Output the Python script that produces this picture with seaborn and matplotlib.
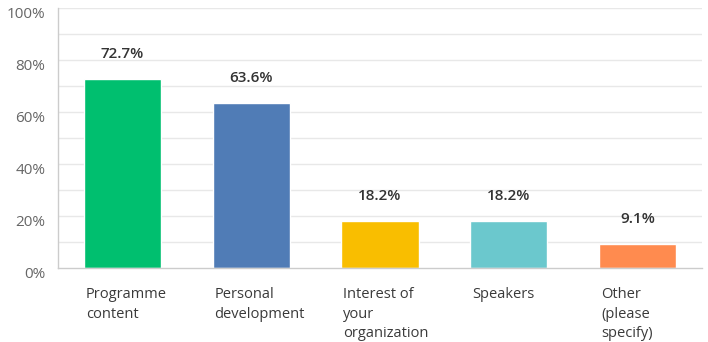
import matplotlib
matplotlib.use("Agg")
import matplotlib.pyplot as plt
import matplotlib.transforms as mtransforms
import seaborn as sns
import pandas as pd

categories = ["Programme\ncontent", "Personal\ndevelopment", "Interest of\nyour\norganization",
              "Speakers", "Other\n(please\nspecify)"]
values = [72.7, 63.6, 18.2, 18.2, 9.1]
value_labels = ["72.7%", "63.6%", "18.2%", "18.2%", "9.1%"]
colors = ["#00BF6F", "#507CB6", "#F9BE00", "#6BC8CD", "#FF8B4F"]
y_ticks = [0, 20, 40, 60, 80, 100]
y_tick_labels = ["0%", "20%", "40%", "60%", "80%", "100%"]

sns.set_style("white")
plt.rcParams['font.family'] = ['Open Sans', 'DejaVu Sans']

df = pd.DataFrame({"cat": categories, "val": values})

fig = plt.figure(figsize=(7.08, 3.42), dpi=100)
ax = fig.add_axes([58/708, (342-268)/342, (702-58)/708, 260/342])

sns.barplot(data=df, x="cat", y="val", hue="cat", palette=colors, width=0.6,
            legend=False, ax=ax, saturation=1)

ax.set_xlim(-0.5, 4.5)
ax.set_ylim(0, 100)
for g in range(10, 101, 10):
    ax.axhline(g, color="#e8e8e8", lw=1, zorder=0)
ax.set_yticks(y_ticks)
ax.set_yticklabels(y_tick_labels, color="#666666", fontsize=11)
ax.tick_params(axis="y", length=0, pad=9)
offset = mtransforms.ScaledTranslation(0, -4/100, fig.dpi_scale_trans)
for lbl in ax.get_yticklabels():
    lbl.set_transform(lbl.get_transform() + offset)

ax.set_xticks([])
ax.set_xlabel("")
ax.set_ylabel("")
trans = mtransforms.blended_transform_factory(ax.transData, ax.transAxes)
for i, c in enumerate(categories):
    ax.text(i - 0.285, -0.075, c, transform=trans, ha="left", va="top",
            fontsize=10.5, color="#3a3a3a", linespacing=1.4)

for i, (v, t) in enumerate(zip(values, value_labels)):
    ax.annotate(t, (i, v), xytext=(0, 13), textcoords="offset points",
                ha="center", va="bottom", fontsize=11, fontweight="semibold",
                color="#333333")

for s in ["top", "right"]:
    ax.spines[s].set_visible(False)
for s in ["left", "bottom"]:
    ax.spines[s].set_color("#cccccc")
    ax.spines[s].set_linewidth(1)

fig.savefig("out.png", dpi=100)
